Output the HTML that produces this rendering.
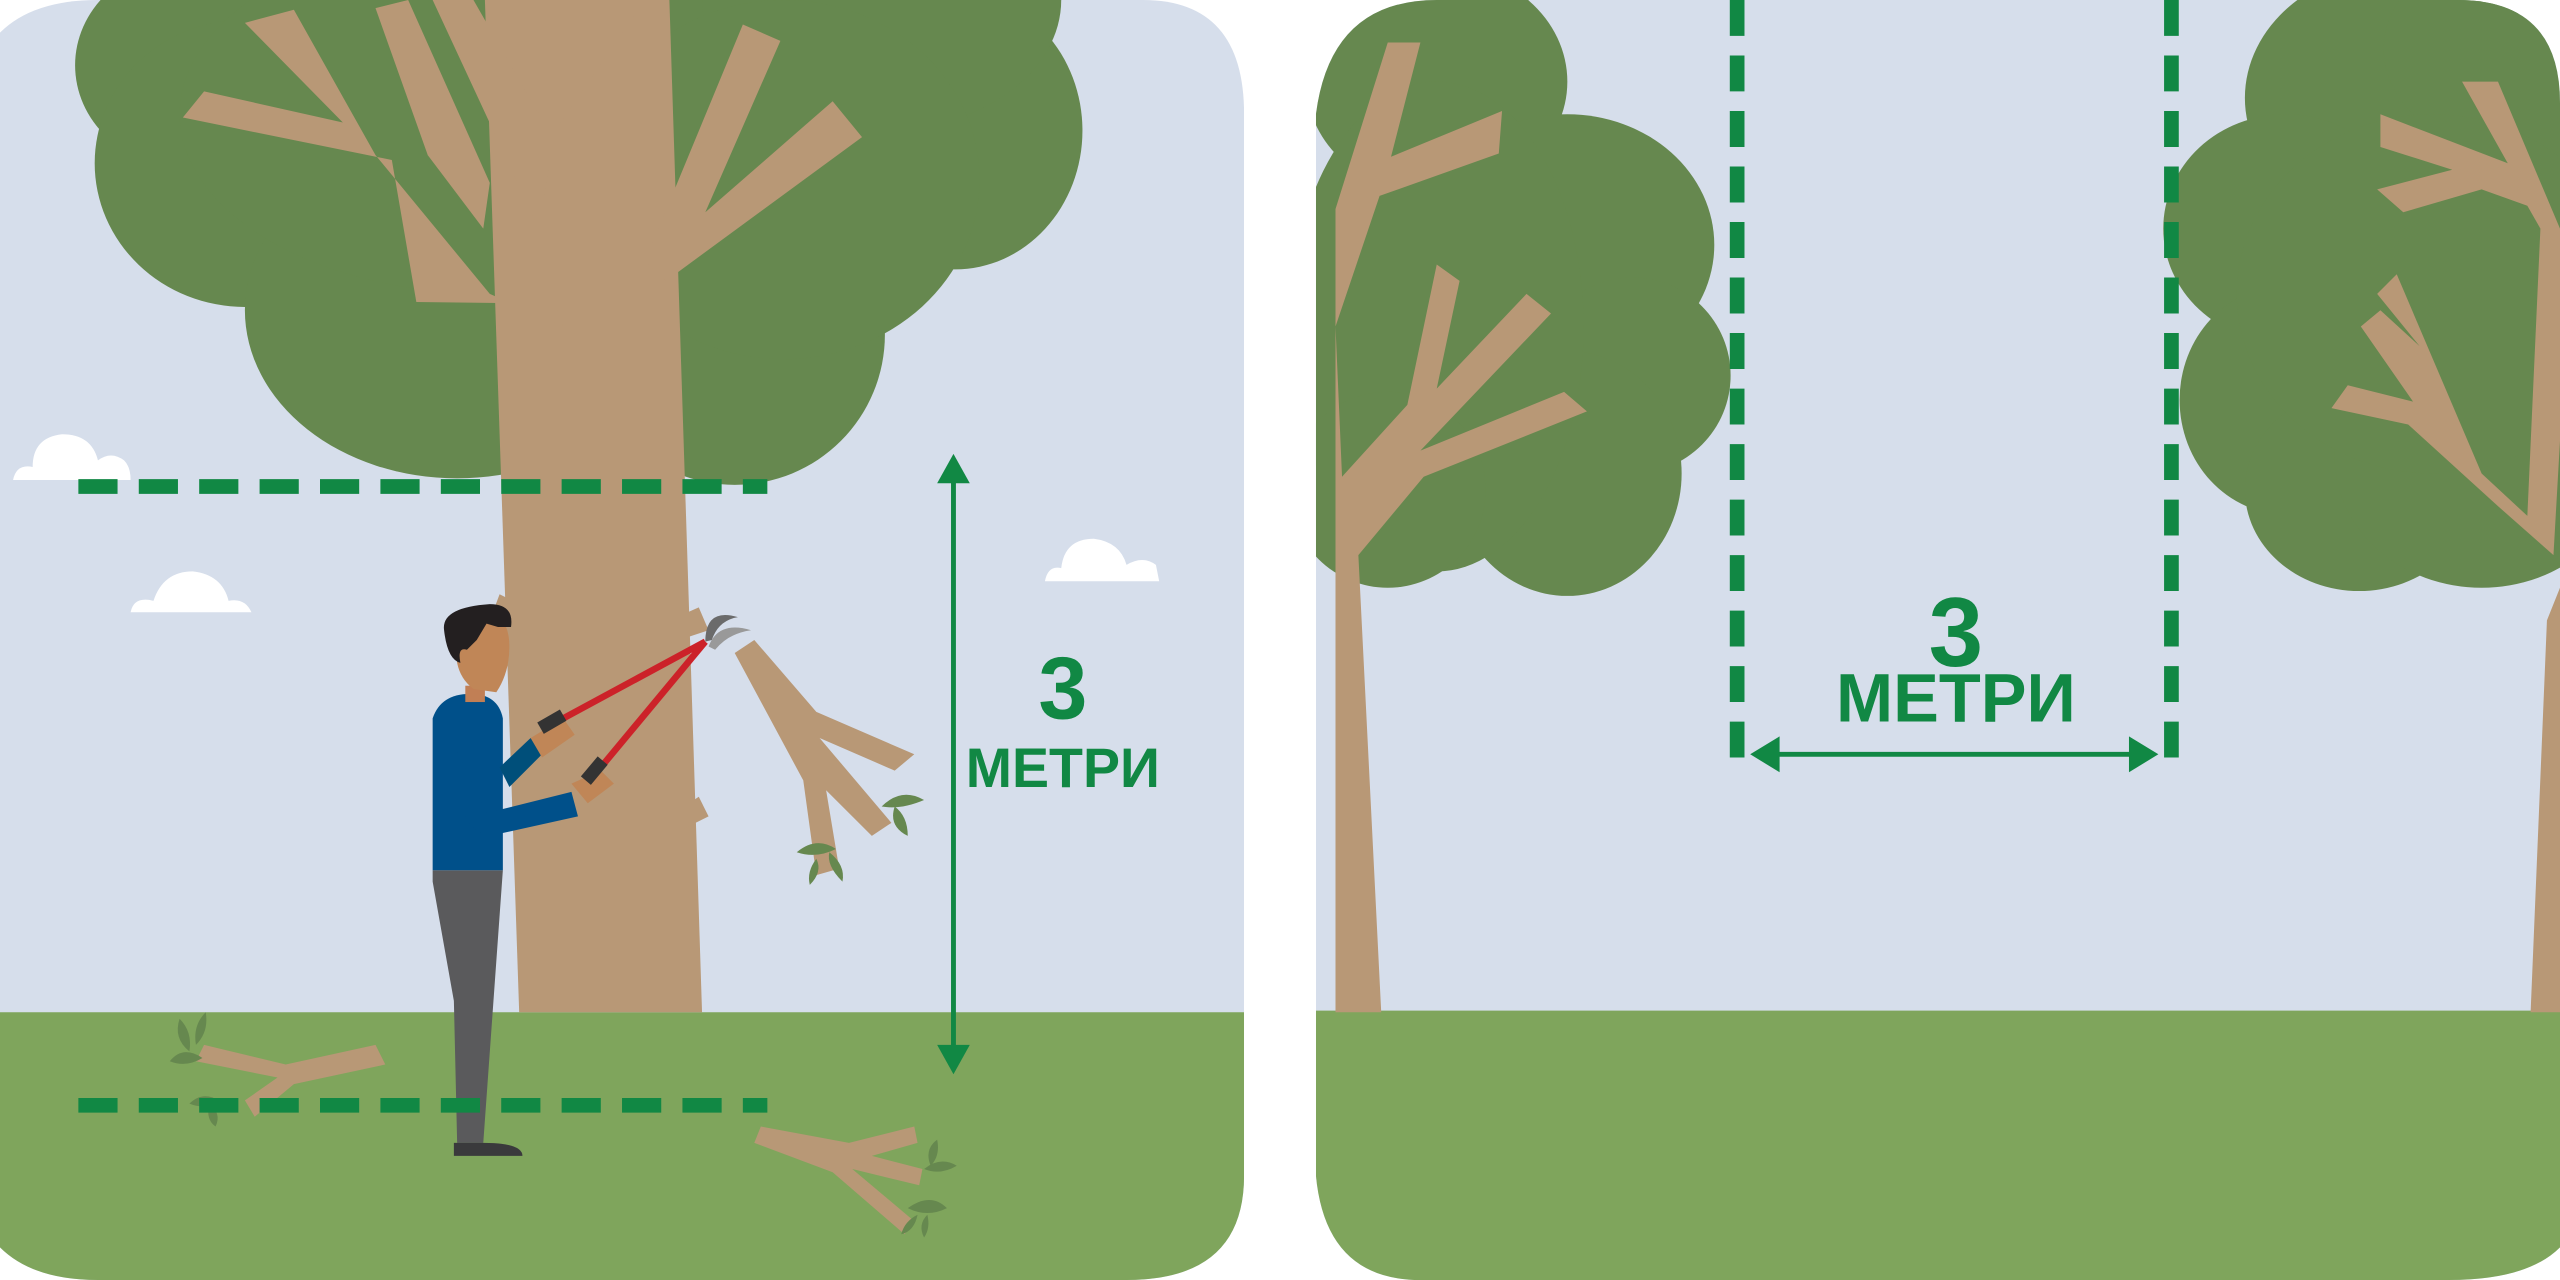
<!DOCTYPE html>
<html><head><meta charset="utf-8"><style>
html,body{margin:0;padding:0;background:#fff;width:2560px;height:1280px;overflow:hidden}
svg{display:block}
text{font-family:"Liberation Sans",sans-serif;font-weight:bold;fill:#118844}
</style></head><body>
<svg width="2560" height="1280" viewBox="0 0 1568 784" xmlns="http://www.w3.org/2000/svg">
<defs>
<clipPath id="lp"><path d="M0,20 Q20,0 60,0 H700 Q762,0 762,70 V720 Q762,784 690,784 H60 Q20,784 0,764 Z"/></clipPath>
<clipPath id="rp"><path d="M806,70 Q815,0 880,0 H1505 Q1568,0 1568,63 V764 Q1548,784 1500,784 H870 Q812,784 806,720 Z"/></clipPath>
</defs>
<rect width="1568" height="784" fill="#fff"/>
<g clip-path="url(#lp)">
<rect x="0" y="0" width="762" height="784" fill="#d6deeb"/>
<rect x="0" y="620" width="762" height="164" fill="#7fa55c"/>
<g fill="#fff">
<path d="M8,294 Q10,284 20,286 Q20,268 38,266 Q56,266 60,282 Q68,276 76,282 Q80,286 80,294 Z"/>
<path d="M80,375 Q82,365 94,368 Q100,350 118,350 Q136,352 140,368 Q150,366 154,375 Z"/>
<path d="M640,356 Q642,346 650,348 Q652,330 670,330 Q686,332 690,346 Q700,340 708,346 L710,356 Z"/>
</g>
<g fill="#66884f">
<ellipse cx="112" cy="40" rx="66" ry="62"/>
<ellipse cx="150" cy="100" rx="92" ry="88"/>
<ellipse cx="280" cy="190" rx="130" ry="103"/>
<ellipse cx="300" cy="70" rx="190" ry="110"/>
<ellipse cx="450" cy="205" rx="92" ry="92"/>
<ellipse cx="585" cy="80" rx="78" ry="85"/>
<ellipse cx="540" cy="0" rx="110" ry="80"/>
<ellipse cx="480" cy="110" rx="120" ry="110"/>
</g>
<g fill="#b89876">
<polygon points="297,0 410,0 430,620 318,620"/>
<polygon points="255,185 340,186 345,200 300,180 230,95 180,6 150,14 210,75 125,56 112,72 240,98"/>
<polygon points="230,5 250,0 300,112 296,140 262,95"/>
<polygon points="265,0 290,0 330,70 330,0 350,0 350,30 375,0 395,0 340,80 330,140"/>
<polygon points="395,160 455,15 478,25 432,130 510,62 528,84 408,172"/>
<polygon points="300,380 306,364 322,372 320,390"/>
<polygon points="410,380 428,372 434,386 410,394"/>
<polygon points="410,500 428,488 434,500 410,512"/>
<polygon points="450,400 462,392 500,436 560,462 548,472 502,452 546,504 534,512 506,484 514,532 500,536 492,478"/>
<polygon points="120,650 125,640 175,652 230,640 236,652 180,664 156,684 150,674 170,660"/>
<polygon points="462,700 466,690 520,700 560,690 562,700 534,708 565,716 563,726 522,716 560,748 554,756 510,718"/>
</g>
<g fill="#66884f">
<path d="M540,494 Q552,482 566,490 Q552,496 540,494Z"/><path d="M548,494 Q544,506 556,512 Q556,500 548,494Z"/>
<path d="M488,522 Q500,512 512,520 Q500,526 488,522Z"/><path d="M508,522 Q518,530 516,540 Q506,530 508,522Z"/><path d="M500,526 Q494,534 496,542 Q504,534 500,526Z"/>
<path d="M104,650 Q112,640 124,648 Q114,654 104,650Z"/><path d="M116,644 Q106,636 110,624 Q118,632 116,644Z"/><path d="M120,640 Q128,632 126,620 Q118,628 120,640Z"/>
<path d="M116,676 Q124,668 134,674 Q126,680 116,676Z"/><path d="M128,676 Q126,686 132,690 Q136,682 128,676Z"/>
<path d="M556,740 Q570,730 580,740 Q568,746 556,740Z"/><path d="M562,744 Q554,748 552,756 Q560,754 562,744Z"/><path d="M568,744 Q570,752 566,758 Q562,750 568,744Z"/>
<path d="M566,716 Q576,708 586,714 Q576,720 566,716Z"/><path d="M570,714 Q566,704 574,698 Q576,708 570,714Z"/>
</g>
<polygon points="265,533 308,533 296,700 280,700 278,613 265,540" fill="#5a5a5c"/>
<path d="M278,700 H296 Q320,700 320,708 H278 Z" fill="#3a3a3c"/>
<path d="M265,440 Q270,425 288,425 Q305,425 308,440 V533 H265 Z" fill="#00508a"/>
<polygon points="306,470 325,452 334,460 312,482" fill="#004f7a"/>
<path d="M280,460 L298,498 L350,485 L354,500 L300,512 Q290,510 285,500 Z" fill="#00508a"/>
<rect x="285" y="420" width="12" height="10" fill="#c17f55"/>
<path d="M278,392 Q280,374 296,374 Q312,376 312,396 Q312,412 304,424 L290,422 Q282,416 280,406 Z" fill="#c08657"/>
<path d="M272,386 Q270,372 300,370 Q315,370 313,384 L305,384 L298,382 L292,392 L286,398 Q280,396 282,406 Q274,404 272,386Z" fill="#231f20"/>
<polygon points="325,452 345,440 352,450 332,464" fill="#c08657"/>
<polygon points="350,480 368,472 376,480 360,492" fill="#c08657"/>
<g stroke="#cc2229" stroke-width="4" fill="none">
<line x1="345" y1="440" x2="432" y2="393"/><line x1="368" y1="470" x2="432" y2="393"/>
</g>
<rect x="330" y="438" width="16" height="8" fill="#333" transform="rotate(-30 338 442)"/>
<rect x="356" y="468" width="16" height="8" fill="#333" transform="rotate(-50 364 472)"/>
<path d="M432,393 Q432,372 452,378 Q440,380 436,392Z" fill="#6b6b6b"/>
<path d="M434,396 Q440,380 460,386 Q446,388 438,398Z" fill="#999"/>
<line x1="48" y1="298" x2="470" y2="298" stroke="#118844" stroke-width="9" stroke-dasharray="24,13"/>
<line x1="48" y1="677" x2="470" y2="677" stroke="#118844" stroke-width="9" stroke-dasharray="24,13"/>
<line x1="584" y1="290" x2="584" y2="648" stroke="#118844" stroke-width="3"/>
<polygon points="584,278 574,296 594,296" fill="#118844"/>
<polygon points="584,658 574,640 594,640" fill="#118844"/>
<text x="651" y="440" font-size="54" text-anchor="middle">3</text>
<text x="651" y="482" font-size="34" text-anchor="middle">МЕТРИ</text>
</g>
<g clip-path="url(#rp)">
<rect x="806" y="0" width="762" height="784" fill="#d6deeb"/>
<rect x="806" y="619" width="762" height="165" fill="#7fa55c"/>
<g fill="#66884f">
<ellipse cx="880" cy="50" rx="80" ry="70"/>
<ellipse cx="960" cy="150" rx="90" ry="80"/>
<ellipse cx="1000" cy="230" rx="60" ry="60"/>
<ellipse cx="960" cy="290" rx="70" ry="75"/>
<ellipse cx="880" cy="200" rx="90" ry="150"/>
<ellipse cx="850" cy="300" rx="60" ry="60"/>
</g>
<g fill="#b89876">
<polygon points="806,60 818,40 818,620 846,620 832,340 872,292 972,252 958,240 870,276 950,192 935,180 880,238 894,172 880,162 862,248 822,292 818,200 845,120 918,94 920,68 852,96 870,26 850,26 818,128 818,40 806,60"/>
</g>
<g fill="#66884f">
<ellipse cx="1470" cy="60" rx="95" ry="80"/>
<ellipse cx="1560" cy="30" rx="100" ry="70"/>
<ellipse cx="1400" cy="140" rx="75" ry="70"/>
<ellipse cx="1400" cy="245" rx="65" ry="70"/>
<ellipse cx="1445" cy="300" rx="70" ry="62"/>
<ellipse cx="1520" cy="280" rx="90" ry="80"/>
<ellipse cx="1490" cy="180" rx="120" ry="110"/>
</g>
<g fill="#b89876">
<polygon points="1550,620 1568,620 1568,0 1568,270 1564,340 1530,310 1475,260 1428,250 1438,236 1478,246 1446,200 1458,190 1482,212 1456,180 1468,168 1520,290 1548,316 1556,140 1548,126 1520,116 1472,130 1456,116 1502,104 1458,90 1458,70 1536,100 1508,50 1530,50 1568,140 1568,360 1560,380"/>
</g>
<line x1="1064" y1="0" x2="1064" y2="474" stroke="#118844" stroke-width="9" stroke-dasharray="22,12"/>
<line x1="1330" y1="0" x2="1330" y2="474" stroke="#118844" stroke-width="9" stroke-dasharray="22,12"/>
<line x1="1085" y1="462" x2="1305" y2="462" stroke="#118844" stroke-width="3"/>
<polygon points="1072,462 1090,451 1090,473" fill="#118844"/>
<polygon points="1322,462 1304,451 1304,473" fill="#118844"/>
<text x="1198" y="408" font-size="60" text-anchor="middle">3</text>
<text x="1198" y="442" font-size="42" text-anchor="middle">МЕТРИ</text>
</g>
</svg>
</body></html>
